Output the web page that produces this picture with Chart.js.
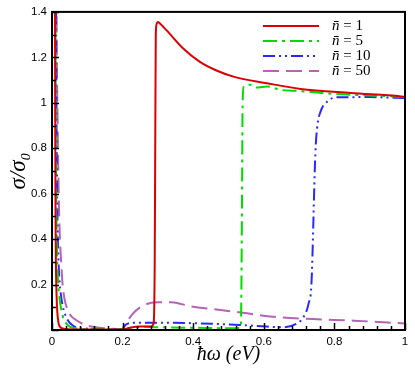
<!DOCTYPE html>
<html>
<head>
<meta charset="utf-8">
<script src="https://cdn.jsdelivr.net/npm/chart.js@4.4.0/dist/chart.umd.min.js"></script>
<style>
    html, body { margin: 0; padding: 0; background: #fff; }
    #wrap { width: 415px; height: 374px; }
</style>
</head>
<body>
<div id="wrap"><canvas id="chart" width="415" height="374"></canvas></div>
<script>
// hbar*omega (eV) and sigma/sigma0, one pair of arrays per curve
const n1X = [0.007, 0.009, 0.010, 0.011, 0.013, 0.015, 0.018, 0.022, 0.03, 0.045, 0.1, 0.2, 0.22, 0.25, 0.28, 0.288, 0.291, 0.293, 0.294, 0.297, 0.300, 0.305, 0.324, 0.371, 0.419, 0.466, 0.514, 0.609, 0.704, 0.846, 0.989, 1.0];
const n1Y = [3, 1.0, 0.5, 0.3, 0.15, 0.08, 0.035, 0.015, 0.007, 0.003, 0.002, 0.002, 0.01, 0.015, 0.015, 0.03, 0.3, 1.0, 1.3, 1.35, 1.356, 1.35, 1.32, 1.24, 1.18, 1.142, 1.115, 1.086, 1.061, 1.043, 1.028, 1.026];

const n5X = [0.008, 0.010, 0.012, 0.013, 0.016, 0.021, 0.031, 0.04, 0.05, 0.07, 0.1, 0.2, 0.25, 0.3, 0.4, 0.5, 0.535, 0.538, 0.540, 0.543, 0.561, 0.58, 0.609, 0.647, 0.7, 0.798, 0.94, 1.0];
const n5Y = [3, 1.2, 0.6, 0.44, 0.25, 0.146, 0.058, 0.03, 0.015, 0.007, 0.004, 0.003, 0.014, 0.012, 0.01, 0.008, 0.01, 0.5, 1.0, 1.07, 1.079, 1.067, 1.072, 1.057, 1.052, 1.039, 1.03, 1.025];

const n10X = [0.009, 0.012, 0.014, 0.016, 0.02, 0.026, 0.04, 0.064, 0.09, 0.15, 0.2, 0.205, 0.238, 0.324, 0.419, 0.533, 0.609, 0.655, 0.694, 0.713, 0.727, 0.735, 0.746, 0.751, 0.761, 0.78, 0.808, 0.9, 1.0];
const n10Y = [3, 1.2, 0.7, 0.44, 0.25, 0.146, 0.058, 0.015, 0.007, 0.004, 0.004, 0.02, 0.032, 0.032, 0.029, 0.022, 0.015, 0.012, 0.029, 0.058, 0.117, 0.204, 0.774, 0.89, 0.962, 1.006, 1.024, 1.025, 1.021];

const n50X = [0.010, 0.013, 0.016, 0.019, 0.022, 0.026, 0.03, 0.035, 0.045, 0.055, 0.068, 0.09, 0.12, 0.16, 0.2, 0.214, 0.228, 0.25, 0.276, 0.305, 0.338, 0.39, 0.466, 0.54, 0.627, 0.74, 0.855, 1.0];
const n50Y = [3, 1.4, 0.9, 0.6, 0.42, 0.3, 0.2, 0.14, 0.085, 0.06, 0.044, 0.025, 0.013, 0.006, 0.004, 0.04, 0.07, 0.1, 0.118, 0.122, 0.122, 0.105, 0.09, 0.076, 0.058, 0.048, 0.041, 0.029];

const seriesLabels = ['1', '5', '10', '50'];
const xTicks = [0, 0.2, 0.4, 0.6, 0.8, 1];
const yTicks = [0.2, 0.4, 0.6, 0.8, 1, 1.2, 1.4];

function toPoints(xs, ys) {
    return xs.map((x, i) => ({ x: x, y: ys[i] }));
}

function makeSet(label, xs, ys, color, dash) {
    return {
        label: label,
        data: toPoints(xs, ys),
        borderColor: color,
        backgroundColor: color,
        borderWidth: 2,
        borderDash: dash,
        pointRadius: 0,
        fill: false,
        cubicInterpolationMode: 'monotone'
    };
}

// frame, inward ticks and the in-plot legend
const framePlugin = {
    id: 'frame',
    afterDraw(chart) {
        const ctx = chart.ctx;
        const a = chart.chartArea;
        const xs = chart.scales.x;
        const ys = chart.scales.y;
        ctx.save();
        ctx.strokeStyle = '#000';

        ctx.lineWidth = 1.5;
        for (let v = 0; v <= 1.0001; v += 0.04) {
            const px = Math.round(xs.getPixelForValue(v)) + 0.5;
            const major = Math.abs(v / 0.2 - Math.round(v / 0.2)) < 1e-6;
            ctx.beginPath();
            ctx.moveTo(px, a.bottom);
            ctx.lineTo(px, a.bottom - (major ? 7 : 4));
            ctx.stroke();
        }
        for (let v = 0; v <= 1.4001; v += 0.1) {
            const py = Math.round(ys.getPixelForValue(v)) + 0.5;
            const major = Math.abs(v / 0.2 - Math.round(v / 0.2)) < 1e-6;
            ctx.beginPath();
            ctx.moveTo(a.left, py);
            ctx.lineTo(a.left + (major ? 7 : 4), py);
            ctx.stroke();
        }

        ctx.lineWidth = 2;
        ctx.strokeRect(a.left, a.top, a.right - a.left, a.bottom - a.top);

        // legend
        const lx = a.right - 142;
        const tx = a.right - 73;
        chart.data.datasets.forEach((ds, i) => {
            const y = a.top + 14 + i * 15;
            ctx.beginPath();
            ctx.strokeStyle = ds.borderColor;
            ctx.lineWidth = 2;
            ctx.setLineDash(ds.borderDash || []);
            ctx.moveTo(lx, y);
            ctx.lineTo(lx + 56, y);
            ctx.stroke();
            ctx.setLineDash([]);
            ctx.fillStyle = '#000';
            ctx.textBaseline = 'middle';
            ctx.font = 'italic 15px "Liberation Serif"';
            ctx.fillText('n\u0304', tx, y);
            const w = ctx.measureText('n\u0304').width;
            ctx.font = '15px "Liberation Serif"';
            ctx.fillText(' = ' + ds.label, tx + w, y);
        });
        ctx.restore();
    }
};

new Chart(document.getElementById('chart'), {
    type: 'line',
    data: {
        datasets: [
            makeSet(seriesLabels[0], n1X, n1Y, 'rgb(218, 0, 0)', []),
            makeSet(seriesLabels[1], n5X, n5Y, 'rgb(0, 220, 0)', [14, 5, 3, 5]),
            makeSet(seriesLabels[2], n10X, n10Y, 'rgb(40, 40, 255)', [12, 4, 2, 4, 2, 4]),
            makeSet(seriesLabels[3], n50X, n50Y, 'rgb(182, 98, 182)', [16, 7])
        ]
    },
    options: {
        responsive: false,
        animation: false,
        layout: { padding: { top: 10, right: 10, left: 0, bottom: 0 } },
        plugins: {
            legend: { display: false },
            tooltip: { enabled: false }
        },
        scales: {
            x: {
                type: 'linear',
                min: 0,
                max: 1,
                afterBuildTicks: (s) => { s.ticks = xTicks.map(v => ({ value: v })); },
                afterFit: (s) => { s.height = 44; },
                border: { display: false },
                grid: { display: false, drawTicks: false },
                ticks: {
                    color: '#000',
                    padding: 5,
                    maxRotation: 0,
                    font: { family: '"Liberation Sans"', size: 11.5 },
                    callback: (v) => String(+v.toFixed(1))
                },
                title: {
                    display: true,
                    text: '\u0127\u03c9 (eV)',
                    color: '#000',
                    padding: { top: 0, bottom: 7 },
                    font: { family: '"Liberation Serif"', size: 20, style: 'italic' }
                }
            },
            y: {
                type: 'linear',
                min: 0,
                max: 1.4,
                afterBuildTicks: (s) => { s.ticks = yTicks.map(v => ({ value: v })); },
                afterFit: (s) => { s.width = 52; },
                border: { display: false },
                grid: { display: false, drawTicks: false },
                ticks: {
                    color: '#000',
                    padding: 5,
                    font: { family: '"Liberation Sans"', size: 11.5 },
                    callback: (v) => String(+v.toFixed(1))
                },
                title: {
                    display: true,
                    text: '\u03c3/\u03c3\u2080',
                    color: '#000',
                    padding: { top: 5, bottom: 0 },
                    font: { family: '"Liberation Serif"', size: 23, style: 'italic' }
                }
            }
        }
    },
    plugins: [framePlugin]
});
</script>
</body>
</html>
